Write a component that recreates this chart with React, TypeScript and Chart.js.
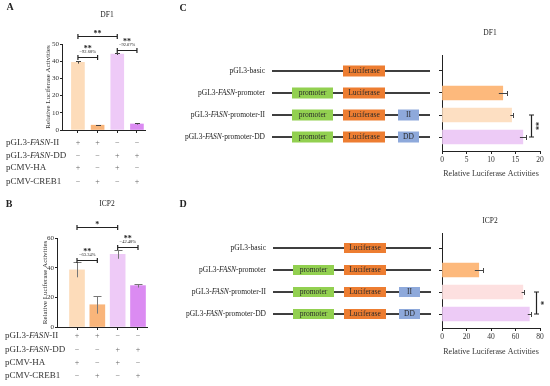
import React, { useEffect, useRef } from "react";
import { Chart, registerables } from "chart.js";

Chart.register(...registerables);

const SERIF = "'Liberation Serif', 'Times New Roman', Times, serif";

type Part = { t: string; i?: boolean };

// ---------- Panels A & B : co-transfection assay ----------
const groupPositions = [0, 1, 2, 3];
const df1GroupValues = [39.3, 2.8, 44.2, 3.5];
const df1GroupErrors = [0.7, 0.3, 0.6, 0.3];
const icp2GroupValues = [38.5, 15.0, 49.0, 27.9];
const icp2GroupErrors = [5.0, 6.0, 3.0, 1.3];
const groupColors = ["#FDDCBA", "#F9B57A", "#EECAF7", "#DB8BF2"];
const df1YTicks = [0, 10, 20, 30, 40, 50];
const icp2YTicks = [0, 20, 40, 60];

const tableRowNames: Part[][] = [
  [{ t: "pGL3-" }, { t: "FASN", i: true }, { t: "-II" }],
  [{ t: "pGL3-" }, { t: "FASN", i: true }, { t: "-DD" }],
  [{ t: "pCMV-HA" }],
  [{ t: "pCMV-CREB1" }],
];
const tableSigns = [
  ["+", "+", "−", "−"],
  ["−", "−", "+", "+"],
  ["+", "−", "+", "−"],
  ["−", "+", "−", "+"],
];

type Bracket = { from: number; to: number; level: number; stars: string; pct: string };
const df1Brackets: Bracket[] = [
  { from: 0, to: 2, level: 54.65, stars: "**", pct: "" },
  { from: 0, to: 1, level: 42.4, stars: "**", pct: "−92.68%" },
  { from: 2, to: 3, level: 46.5, stars: "**", pct: "−92.07%" },
];
const icp2Brackets: Bracket[] = [
  { from: 0, to: 2, level: 67.4, stars: "*", pct: "" },
  { from: 0, to: 1, level: 45.2, stars: "**", pct: "−63.34%" },
  { from: 2, to: 3, level: 53.9, stars: "**", pct: "−42.48%" },
];

// ---------- Panels C & D : promoter constructs ----------
const constructIndex = [0, 1, 2, 3];
const constructNames: Part[][] = [
  [{ t: "pGL3-basic" }],
  [{ t: "pGL3-" }, { t: "FASN", i: true }, { t: "-promoter" }],
  [{ t: "pGL3-" }, { t: "FASN", i: true }, { t: "-promoter-II" }],
  [{ t: "pGL3-" }, { t: "FASN", i: true }, { t: "-promoter-DD" }],
];
const constructHasPromoter = [false, true, true, true];
const constructTags = ["", "", "II", "DD"];
const df1ConstructValues: (number | null)[] = [null, 12.4, 14.2, 16.5];
const df1ConstructErrors = [0, 0.8, 0.25, 0.6];
const icp2ConstructValues: (number | null)[] = [null, 30.0, 66.0, 71.3];
const icp2ConstructErrors = [0, 3.2, 1.0, 1.3];
const df1ConstructColors = ["#FDB97C", "#FDB97C", "#FDDFC2", "#EDCBF6"];
const icp2ConstructColors = ["#FDB97C", "#FDB97C", "#FDE0E0", "#EDCBF6"];
const df1XTicks = [0, 5, 10, 15, 20];
const icp2XTicks = [0, 20, 40, 60, 80];

const AXIS_TITLE = "Relative Luciferase Activities";

function drawRich(ctx: CanvasRenderingContext2D, parts: Part[], x: number, y: number, size: number, align: "left" | "right") {
  const widths = parts.map((p) => {
    ctx.font = `${p.i ? "italic " : ""}${size}px ${SERIF}`;
    return ctx.measureText(p.t).width;
  });
  const total = widths.reduce((a, b) => a + b, 0);
  let cx = align === "right" ? x - total : x;
  ctx.textAlign = "left";
  ctx.textBaseline = "middle";
  parts.forEach((p, k) => {
    ctx.font = `${p.i ? "italic " : ""}${size}px ${SERIF}`;
    ctx.fillText(p.t, cx, y);
    cx += widths[k];
  });
}

function drawStars(ctx: CanvasRenderingContext2D, text: string, x: number, cy: number, size: number) {
  ctx.font = `bold ${size}px ${SERIF}`;
  ctx.textAlign = "center";
  ctx.textBaseline = "alphabetic";
  ctx.fillText(text, x, cy + size * 0.5);
}

type ColumnOpts = {
  values: number[];
  errors: number[];
  yMax: number;
  yTicks: number[];
  xMin: number;
  xMax: number;
  barWidth: number;
  capWidth: number;
  errColor: string;
  pad: { top: number; left: number; right: number; bottom: number };
  yAxisWidth: number;
  brackets: Bracket[];
  tableOffsets: number[];
  labelX: number;
};

function columnConfig(o: ColumnOpts): any {
  const plugin = {
    id: "columnAnnotations",
    afterDatasetsDraw(chart: any) {
      const ctx: CanvasRenderingContext2D = chart.ctx;
      const xs = chart.scales.x;
      const ys = chart.scales.y;
      ctx.save();
      ctx.strokeStyle = o.errColor;
      ctx.lineWidth = 1;
      o.values.forEach((v, i) => {
        const x = Math.round(xs.getPixelForValue(groupPositions[i])) + 0.5;
        const yt = Math.round(ys.getPixelForValue(v + o.errors[i])) + 0.5;
        const yb = ys.getPixelForValue(v - o.errors[i]);
        ctx.beginPath();
        ctx.moveTo(x, yb);
        ctx.lineTo(x, yt);
        ctx.moveTo(x - o.capWidth / 2, yt);
        ctx.lineTo(x + o.capWidth / 2, yt);
        ctx.stroke();
      });
      ctx.restore();
    },
    afterDraw(chart: any) {
      const ctx: CanvasRenderingContext2D = chart.ctx;
      const xs = chart.scales.x;
      const ys = chart.scales.y;
      const area = chart.chartArea;
      ctx.save();
      o.brackets.forEach((b) => {
        const x1 = xs.getPixelForValue(groupPositions[b.from]);
        const x2 = xs.getPixelForValue(groupPositions[b.to]);
        const y = Math.round(ys.getPixelForValue(b.level)) + 0.5;
        ctx.strokeStyle = "#222";
        ctx.lineWidth = 1.2;
        ctx.beginPath();
        ctx.moveTo(x1, y);
        ctx.lineTo(x2, y);
        ctx.moveTo(x1, y - 2.5);
        ctx.lineTo(x1, y + 2.5);
        ctx.moveTo(x2, y - 2.5);
        ctx.lineTo(x2, y + 2.5);
        ctx.stroke();
        ctx.fillStyle = "#222";
        const xm = (x1 + x2) / 2;
        if (b.pct) {
          ctx.font = `4.5px ${SERIF}`;
          ctx.textAlign = "center";
          ctx.textBaseline = "middle";
          ctx.fillText(b.pct, xm, y - 5.5);
          drawStars(ctx, b.stars, xm, y - 11, 8);
        } else {
          drawStars(ctx, b.stars, xm, y - 4.5, 8);
        }
      });
      ctx.fillStyle = "#333";
      tableRowNames.forEach((parts, r) => {
        const y = area.bottom + o.tableOffsets[r];
        drawRich(ctx, parts, o.labelX, y, 9, "left");
        ctx.fillStyle = "#666";
        ctx.font = `8px ${SERIF}`;
        ctx.textAlign = "center";
        ctx.textBaseline = "middle";
        tableSigns[r].forEach((s, c) => {
          ctx.fillText(s, xs.getPixelForValue(groupPositions[c]), y);
        });
        ctx.fillStyle = "#333";
      });
      ctx.restore();
    },
  };

  return {
    type: "bar",
    data: {
      datasets: [
        {
          data: o.values.map((v, i) => ({ x: groupPositions[i], y: v })),
          backgroundColor: groupColors,
          borderWidth: 0,
          barThickness: o.barWidth,
        },
      ],
    },
    options: {
      responsive: false,
      maintainAspectRatio: false,
      animation: false,
      devicePixelRatio: 1,
      layout: { padding: o.pad },
      plugins: { legend: { display: false }, tooltip: { enabled: false }, title: { display: false } },
      scales: {
        x: {
          type: "linear",
          min: o.xMin,
          max: o.xMax,
          offset: false,
          afterBuildTicks: (s: any) => {
            s.ticks = groupPositions.map((v) => ({ value: v }));
          },
          afterFit: (s: any) => {
            s.height = 10;
          },
          ticks: { callback: () => "", font: { size: 6, family: SERIF } },
          grid: { drawOnChartArea: false, drawTicks: true, tickLength: 3, color: "#222", offset: false },
          border: { display: true, color: "#222", width: 1 },
        },
        y: {
          min: 0,
          max: o.yMax,
          afterBuildTicks: (s: any) => {
            s.ticks = o.yTicks.map((v) => ({ value: v }));
          },
          afterFit: (s: any) => {
            s.width = o.yAxisWidth;
          },
          ticks: { font: { size: 7, family: SERIF }, color: "#333", padding: 1 },
          grid: { drawOnChartArea: false, drawTicks: true, tickLength: 2, color: "#222" },
          border: { display: true, color: "#222", width: 1 },
          title: {
            display: true,
            text: AXIS_TITLE,
            font: { size: 7, family: SERIF },
            color: "#333",
            padding: { top: 0, bottom: 0 },
          },
        },
      },
    },
    plugins: [plugin],
  };
}

type BarhOpts = {
  values: (number | null)[];
  errors: number[];
  colors: string[];
  xMax: number;
  xTicks: number[];
  yMin: number;
  yMax: number;
  pad: { top: number; left: number; right: number; bottom: number };
  xAxisHeight: number;
  barWidth: number;
  sigValue: number;
  sigStars: string;
  dx: number;
  boxH: number;
};

function barhConfig(o: BarhOpts): any {
  const plugin = {
    id: "constructAnnotations",
    afterDatasetsDraw(chart: any) {
      const ctx: CanvasRenderingContext2D = chart.ctx;
      const xs = chart.scales.x;
      const ys = chart.scales.y;
      ctx.save();
      ctx.strokeStyle = "#444";
      ctx.lineWidth = 1;
      o.values.forEach((v, i) => {
        if (v === null || !o.errors[i]) return;
        const y = Math.round(ys.getPixelForValue(constructIndex[i])) + 0.5;
        const x1 = xs.getPixelForValue(v - o.errors[i]);
        const x2 = Math.round(xs.getPixelForValue(v + o.errors[i])) + 0.5;
        ctx.beginPath();
        ctx.moveTo(x1, y);
        ctx.lineTo(x2, y);
        ctx.moveTo(x2, y - 2.5);
        ctx.lineTo(x2, y + 2.5);
        ctx.stroke();
      });
      ctx.restore();
    },
    afterDraw(chart: any) {
      const ctx: CanvasRenderingContext2D = chart.ctx;
      const xs = chart.scales.x;
      const ys = chart.scales.y;
      const d = o.dx;
      ctx.save();
      constructIndex.forEach((idx, i) => {
        const y = ys.getPixelForValue(idx);
        ctx.fillStyle = "#222";
        drawRich(ctx, constructNames[i], 85 + d, y, 7.5, "right");
        ctx.fillStyle = "#111";
        ctx.fillRect(92 + d, y - 0.8, 158, 1.6);
        const box = (x1: number, x2: number, color: string, label: string) => {
          ctx.fillStyle = color;
          ctx.fillRect(x1 + d, y - o.boxH / 2, x2 - x1, o.boxH);
          ctx.fillStyle = "#2a2a2a";
          ctx.font = `7.5px ${SERIF}`;
          ctx.textAlign = "center";
          ctx.textBaseline = "middle";
          ctx.fillText(label, (x1 + x2) / 2 + d, y + 0.5);
        };
        if (constructHasPromoter[i]) box(112, 153, "#92D050", "promoter");
        box(163, 205, "#ED7D31", "Luciferase");
        if (constructTags[i]) box(218, 239, "#8EA9DB", constructTags[i]);
      });
      const x = Math.round(xs.getPixelForValue(o.sigValue)) + 0.5;
      const y1 = ys.getPixelForValue(2);
      const y2 = ys.getPixelForValue(3);
      ctx.strokeStyle = "#222";
      ctx.lineWidth = 1.2;
      ctx.beginPath();
      ctx.moveTo(x, y1);
      ctx.lineTo(x, y2);
      ctx.moveTo(x - 2.5, y1);
      ctx.lineTo(x + 2.5, y1);
      ctx.moveTo(x - 2.5, y2);
      ctx.lineTo(x + 2.5, y2);
      ctx.stroke();
      ctx.fillStyle = "#222";
      ctx.translate(x + 5.5, (y1 + y2) / 2);
      ctx.rotate(Math.PI / 2);
      drawStars(ctx, o.sigStars, 0, 0, 8);
      ctx.restore();
    },
  };

  return {
    type: "bar",
    data: {
      datasets: [
        {
          data: o.values.map((v, i) => ({ x: v, y: constructIndex[i] })),
          backgroundColor: o.colors,
          borderWidth: 0,
          barThickness: o.barWidth,
        },
      ],
    },
    options: {
      indexAxis: "y",
      responsive: false,
      maintainAspectRatio: false,
      animation: false,
      devicePixelRatio: 1,
      layout: { padding: o.pad },
      plugins: { legend: { display: false }, tooltip: { enabled: false }, title: { display: false } },
      scales: {
        y: {
          type: "linear",
          reverse: true,
          min: o.yMin,
          max: o.yMax,
          offset: false,
          afterBuildTicks: (s: any) => {
            s.ticks = constructIndex.map((v) => ({ value: v }));
          },
          afterFit: (s: any) => {
            s.width = 10;
          },
          ticks: { callback: () => "", font: { size: 6, family: SERIF } },
          grid: { drawOnChartArea: false, drawTicks: true, tickLength: 3, color: "#222", offset: false },
          border: { display: true, color: "#222", width: 1 },
        },
        x: {
          type: "linear",
          min: 0,
          max: o.xMax,
          afterBuildTicks: (s: any) => {
            s.ticks = o.xTicks.map((v) => ({ value: v }));
          },
          afterFit: (s: any) => {
            s.height = o.xAxisHeight;
          },
          ticks: { font: { size: 7.5, family: SERIF }, color: "#333", padding: 2, maxRotation: 0 },
          grid: { drawOnChartArea: false, drawTicks: true, tickLength: 3, color: "#222" },
          border: { display: true, color: "#222", width: 1 },
          title: {
            display: true,
            text: AXIS_TITLE,
            font: { size: 8, family: SERIF },
            color: "#333",
            padding: { top: 0, bottom: 0 },
          },
        },
      },
    },
    plugins: [plugin],
  };
}

function ChartCanvas(props: { left: number; top: number; width: number; height: number; config: () => any }) {
  const ref = useRef<HTMLCanvasElement>(null);
  useEffect(() => {
    if (!ref.current) return;
    const chart = new Chart(ref.current, props.config());
    return () => chart.destroy();
  }, []);
  return (
    <canvas
      ref={ref}
      width={props.width}
      height={props.height}
      style={{ position: "absolute", left: props.left, top: props.top, width: props.width, height: props.height }}
    />
  );
}

function Label(props: { x: number; y: number; text: string; size: number; bold?: boolean }) {
  return (
    <div
      style={{
        position: "absolute",
        left: props.x,
        top: props.y,
        transform: "translate(-50%, -50%)",
        fontFamily: SERIF,
        fontSize: props.size,
        fontWeight: props.bold ? 700 : 400,
        lineHeight: 1,
        color: "#222",
        whiteSpace: "nowrap",
        opacity: 0.99,
        willChange: "transform",
      }}
    >
      {props.text}
    </div>
  );
}

export default function App() {
  return (
    <div style={{ position: "absolute", left: 0, top: 0, width: 550, height: 386, background: "#fff", overflow: "hidden" }}>
      <Label x={9.5} y={7} text="A" size={10} bold />
      <Label x={9} y={204} text="B" size={10} bold />
      <Label x={183} y={8} text="C" size={10} bold />
      <Label x={183} y={204} text="D" size={10} bold />
      <Label x={107} y={15} text="DF1" size={7.5} />
      <Label x={107} y={204} text="ICP2" size={7.5} />
      <Label x={490} y={33} text="DF1" size={7.5} />
      <Label x={490} y={221} text="ICP2" size={7.5} />

      <ChartCanvas
        left={0}
        top={20}
        width={180}
        height={170}
        config={() =>
          columnConfig({
            values: df1GroupValues,
            errors: df1GroupErrors,
            yMax: 50,
            yTicks: df1YTicks,
            xMin: -0.81,
            xMax: 3.41,
            barWidth: 13,
            capWidth: 5,
            errColor: "#444",
            pad: { top: 24, left: 44, right: 35, bottom: 50 },
            yAxisWidth: 18,
            brackets: df1Brackets,
            tableOffsets: [13, 26, 38, 52],
            labelX: 6,
          })
        }
      />
      <ChartCanvas
        left={0}
        top={200}
        width={180}
        height={186}
        config={() =>
          columnConfig({
            values: icp2GroupValues,
            errors: icp2GroupErrors,
            yMax: 60,
            yTicks: icp2YTicks,
            xMin: -0.984,
            xMax: 3.443,
            barWidth: 15,
            capWidth: 8,
            errColor: "#777",
            pad: { top: 38, left: 41, right: 33, bottom: 49 },
            yAxisWidth: 16,
            brackets: icp2Brackets,
            tableOffsets: [9, 23, 36, 49],
            labelX: 5,
          })
        }
      />
      <ChartCanvas
        left={180}
        top={20}
        width={370}
        height={165}
        config={() =>
          barhConfig({
            values: df1ConstructValues,
            errors: df1ConstructErrors,
            colors: df1ConstructColors,
            xMax: 20,
            xTicks: df1XTicks,
            yMin: -0.727,
            yMax: 3.636,
            pad: { top: 35, left: 252, right: 10, bottom: 6 },
            xAxisHeight: 28,
            barWidth: 14,
            sigValue: 18.2,
            sigStars: "**",
            dx: 0,
            boxH: 11,
          })
        }
      />
      <ChartCanvas
        left={180}
        top={200}
        width={370}
        height={172}
        config={() =>
          barhConfig({
            values: icp2ConstructValues,
            errors: icp2ConstructErrors,
            colors: icp2ConstructColors,
            xMax: 80,
            xTicks: icp2XTicks,
            yMin: -0.682,
            yMax: 3.636,
            pad: { top: 33, left: 252, right: 10, bottom: 15 },
            xAxisHeight: 29,
            barWidth: 14,
            sigValue: 76.7,
            sigStars: "*",
            dx: 1,
            boxH: 10,
          })
        }
      />
    </div>
  );
}
